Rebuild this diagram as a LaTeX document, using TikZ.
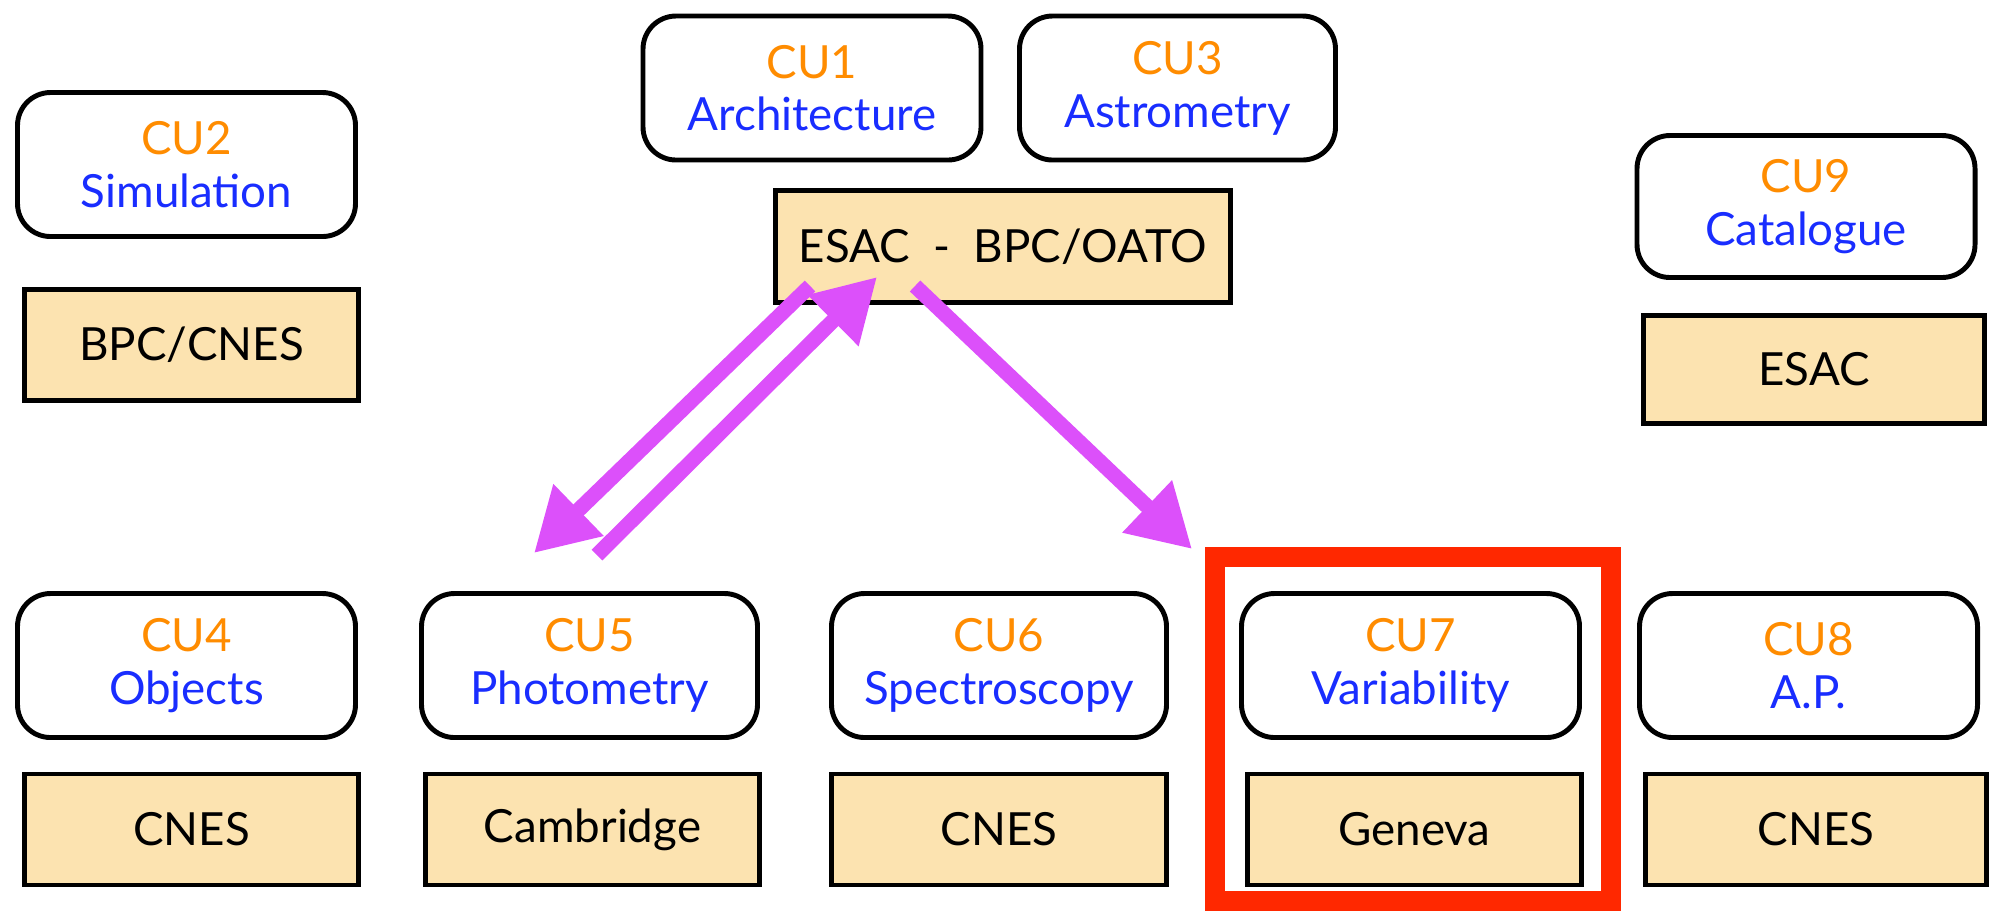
\documentclass[tikz,border=0pt]{standalone}
\usepackage{fontspec}
\setmainfont{Lato}
\usetikzlibrary{arrows.meta}
\usetikzlibrary{calc}

\definecolor{cuorange}{RGB}{255,140,0}
\definecolor{cublue}{RGB}{25,45,255}
\definecolor{sitetan}{RGB}{252,227,176}
\definecolor{flowpink}{RGB}{220,80,250}
\definecolor{hilitered}{RGB}{255,40,0}

\newcommand{\cuname}[2]{\textcolor{cuorange}{#1}\\[-1pt]\textcolor{cublue}{#2}}

\begin{document}
\begin{tikzpicture}[
    cubox/.style={draw, line width=1.4pt, rounded corners=0.33cm, fill=white, align=center,
        minimum width=3.38cm, minimum height=1.44cm, font=\fontsize{13}{16}\selectfont},
    sitebox/.style={draw, line width=1.4pt, fill=sitetan,
        minimum width=3.34cm, minimum height=1.11cm, font=\fontsize{13}{16}\selectfont},
    flow/.style={draw=flowpink, fill=flowpink, line width=4.3pt, -{Triangle[length=0.62cm,width=0.68cm]}},
    hilite/.style={draw=hilitered, line width=0.2cm}
]
                \useasboundingbox (0,0) rectangle (19.93,-9.14);
                % top row
                \node[cubox] (cu2) at (1.865,-1.645) {\cuname{CU2}{Simulation}};
                \node[sitebox] (bpccnes) at (1.915,-3.45) {BPC/CNES};
                \node[cubox] (cu1) at (8.12,-0.88) {\cuname{CU1}{Architecture}};
                \node[cubox, minimum width=3.16cm] (cu3) at (11.775,-0.88) {\cuname{CU3}{Astrometry}};
                \node[sitebox, minimum width=4.55cm, minimum height=1.12cm] (esac) at (10.03,-2.465) {ESAC\ \ -\ \ BPC/OATO};
                \node[cubox, minimum height=1.42cm] (cu9) at (18.06,-2.065) {\cuname{CU9}{Catalogue}};
                \node[sitebox, minimum width=3.41cm, minimum height=1.08cm] (esacnine) at (18.14,-3.695) {ESAC};
                % bottom row
                \node[cubox] (cu4) at (1.865,-6.655) {\cuname{CU4}{Objects}};
                \node[cubox, minimum width=3.36cm] (cu5) at (5.895,-6.655) {\cuname{CU5}{Photometry}};
                \node[cubox, minimum width=3.35cm] (cu6) at (9.99,-6.655) {\cuname{CU6}{Spectroscopy}};
                \node[cubox] (cu7) at (14.105,-6.655) {\cuname{CU7}{Variability}};
                \node[cubox] (cu8) at (18.085,-6.655) {\cuname{CU8}{A.P.}};
                \node[sitebox] (cnesfour) at (1.915,-8.295) {CNES};
                \node[sitebox] (cambridge) at (5.925,-8.295) {Cambridge};
                \node[sitebox, minimum width=3.35cm] (cnessix) at (9.99,-8.295) {CNES};
                \node[sitebox] (geneva) at (14.145,-8.295) {Geneva};
                \node[sitebox, minimum width=3.41cm] (cneseight) at (18.16,-8.295) {CNES};
                % flows
                \draw[flow] ($(esac.south west) + (0.37,0.19)$) to ($(cu5.north) + (-0.555,0.38)$);
                \draw[flow] ($(cu5.north) + (0.075,0.36)$) to ($(esac.south west) + (1.04,0.28)$);
                \draw[flow] ($(esac.south west) + (1.42,0.19)$) to ($(cu7.north west) + (-0.47,0.42)$);
                \draw[hilite] ($(cu7.north west) + (-0.245,0.345)$) rectangle ($(geneva.south east) + (0.275,-0.135)$);
            \end{tikzpicture}
\end{document}
